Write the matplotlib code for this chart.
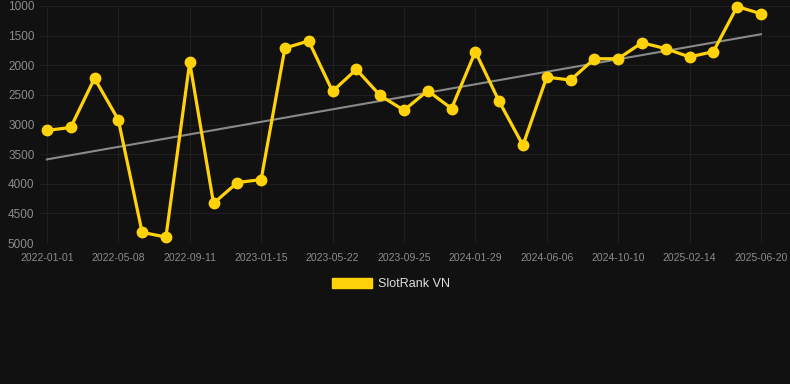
import numpy as np
import matplotlib
matplotlib.use("Agg")
import matplotlib.pyplot as plt
from matplotlib.patches import Patch

# rank values (lower is better, axis inverted)
rank = [3100, 3050, 2220, 2920, 4820, 4900, 1950, 4330, 3980, 3930,
        1710, 1590, 2440, 2070, 2510, 2760, 2430, 2730, 1770, 2610,
        3350, 2200, 2250, 1890, 1890, 1620, 1720, 1860, 1770, 1010, 1130]
tick_labels = ['2022-01-01', '2022-05-08', '2022-09-11', '2023-01-15',
               '2023-05-22', '2023-09-25', '2024-01-29', '2024-06-06',
               '2024-10-10', '2025-02-14', '2025-06-20']
y_ticks = [1000, 1500, 2000, 2500, 3000, 3500, 4000, 4500, 5000]
series_name = 'SlotRank VN'

bg = '#111111'
gold = '#FFD20A'

plt.rcParams['font.family'] = ['Liberation Sans', 'DejaVu Sans']

fig = plt.figure(figsize=(7.9, 3.84), dpi=100, facecolor=bg)
ax = fig.add_axes([40 / 790, 141 / 384, 750 / 790, 237 / 384])
ax.set_facecolor(bg)

x = np.arange(len(rank))

# trend line from a linear fit of the data
coef = np.polyfit(x, rank, 1)
ax.plot(x, np.polyval(coef, x), color='#8a8a8a', lw=1.5, zorder=2)

ax.plot(x, rank, color=gold, lw=2.3, marker='o', markersize=7.5,
        clip_on=False, zorder=3)

ax.set_xlim(-0.29, 31.22)
ax.set_ylim(5000, 1000)
ax.set_xticks(x[::3])
ax.set_xticklabels(tick_labels)
ax.set_yticks(y_ticks)

ax.grid(True, color='#1f1f1f', lw=0.8)
ax.set_axisbelow(True)
for s in ax.spines.values():
    s.set_visible(False)
ax.tick_params(colors='#8c8c8c', length=0)
ax.tick_params(axis='x', pad=7, labelsize=7.5)
ax.tick_params(axis='y', pad=4, labelsize=8.5)

handle = Patch(facecolor=gold, edgecolor=gold)
fig.legend([handle], [series_name], loc='center',
           bbox_to_anchor=(391 / 790, 1 - 284 / 384), frameon=False,
           handlelength=3.2, handleheight=0.8, handletextpad=0.5,
           fontsize=9, labelcolor='#dddddd')

fig.savefig('out.png', dpi=100, facecolor=bg)
